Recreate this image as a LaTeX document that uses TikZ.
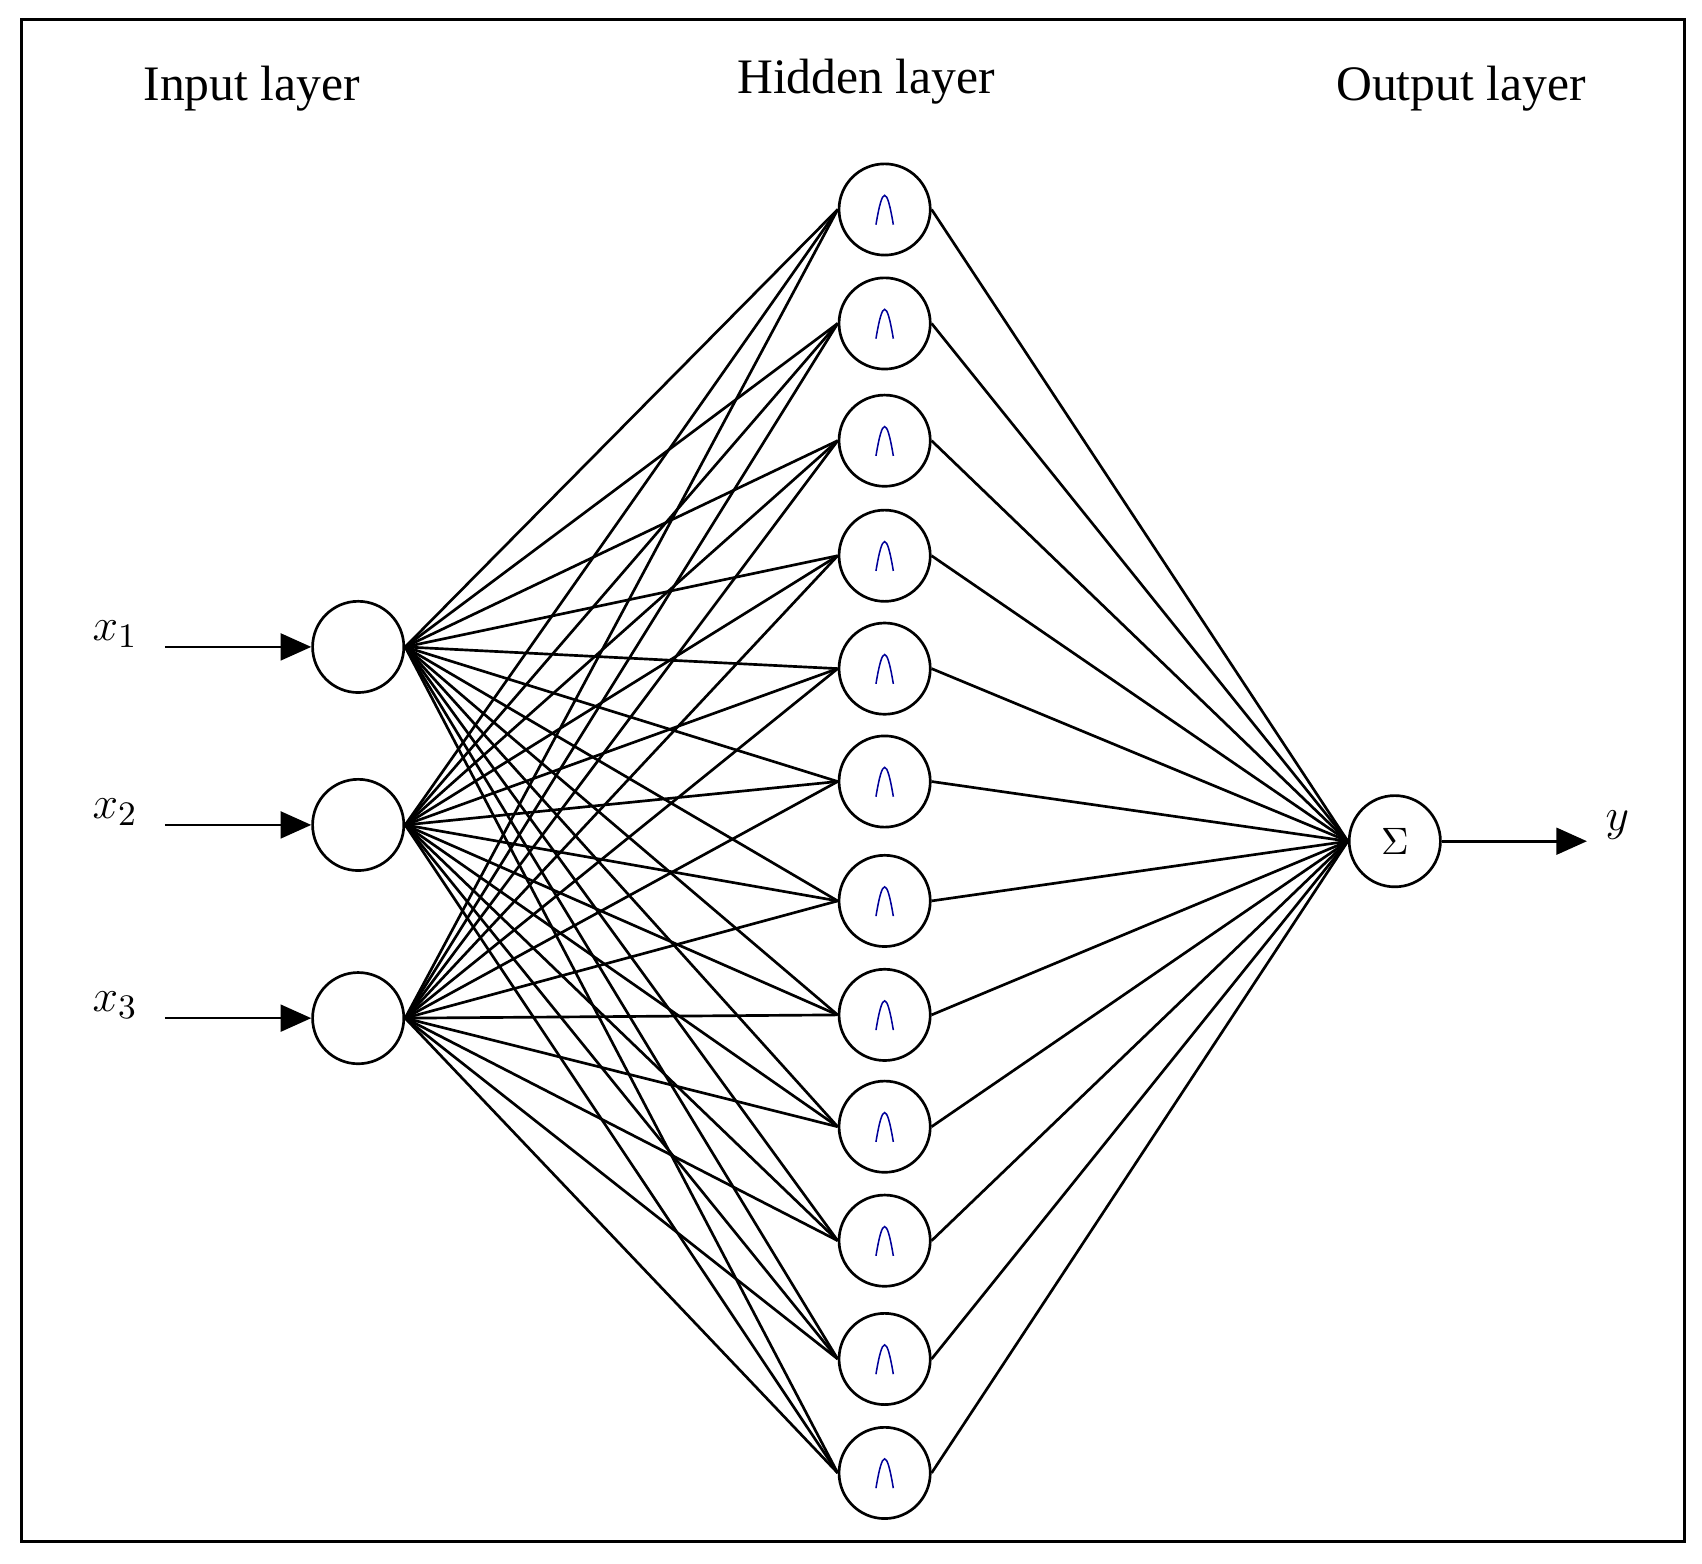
\documentclass[tikz,border=0pt]{standalone}
\usepackage{fontspec}
\setmainfont{Liberation Serif}
\usepackage{tikz}
\usetikzlibrary{arrows.meta}
\begin{document}
\begin{tikzpicture}[x=0.01cm, y=-0.01cm, line width=0.7pt]
		\tikzset{neuron/.style={circle, draw, minimum size=0.84cm, inner sep=0pt}}
		\tikzset{layername/.style={font=\fontsize{13}{15}\selectfont}}
		\tikzset{link/.style={-}}
		\tikzset{feed/.style={-{Triangle[length=8pt, width=7pt]}}}
		\useasboundingbox (0,0) rectangle (1568,1440);
		\draw[line width=0.8pt] (20,18) rectangle (1552,1420);

		\node[layername] (inTitle) at (232,82) {Input layer};
		\node[layername] (hidTitle) at (798,75) {Hidden layer};
		\node[layername] (outTitle) at (1346,82) {Output layer};

		\foreach \i/\y in {1/596, 2/760, 3/938} {
			\node[neuron] (in\i) at (330,\y) {};
			\node[font=\fontsize{13}{15}\selectfont] (xlab\i) at (106,\y-12) {$x_{\i}$};
			\coordinate (src\i) at (152,\y);
			\draw[feed] (src\i) -- (in\i);
		}

		\foreach \j/\y in {1/193, 2/298, 3/406, 4/512, 5/616, 6/720,
				7/830, 8/935, 9/1038, 10/1143, 11/1252, 12/1357} {
			\node[neuron] (hid\j) at (815,\y) {};
			\draw[blue!60!black, line width=0.4pt]
				(hid\j.center) ++(-8,14) .. controls ++(6,-36) and ++(-6,-36) .. ++(16,0);
		}

		\node[neuron] (out) at (1285,775) {$\Sigma$};
		\coordinate (sink) at (1462,775);
		\draw[feed] (out) -- (sink);
		\node[font=\fontsize{13}{15}\selectfont] (ylab) at (1490,760) {$y$};

		\foreach \i in {1,2,3}
			\foreach \j in {1,...,12}
				\draw[link] (in\i.east) -- (hid\j.west);
		\foreach \j in {1,...,12}
			\draw[link] (hid\j.east) -- (out.west);
\end{tikzpicture}
\end{document}
